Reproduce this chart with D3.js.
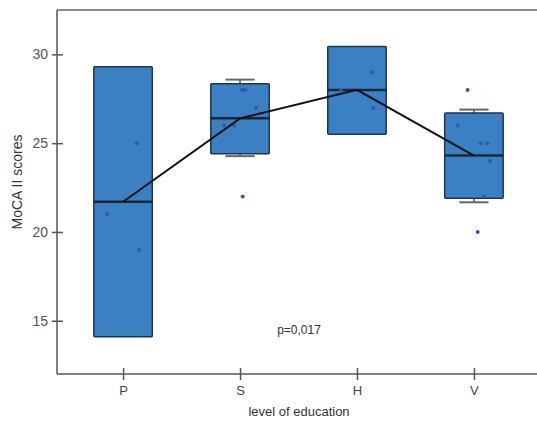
<!DOCTYPE html>
<html>
<head>
<meta charset="utf-8">
<script src="https://cdn.jsdelivr.net/npm/d3@7"></script>
<style>
  html, body { margin: 0; padding: 0; background: #fff; }
  svg { display: block; }
  text { font-family: Arial, "Liberation Sans", sans-serif; }
</style>
</head>
<body>
<svg id="chart" width="537" height="425"></svg>
<script>
// Education level groups
const categories = ["P", "S", "H", "V"];

// Box statistics per group (MoCA II scores)
const q1 = [14.1, 24.4, 25.5, 21.9];
const medians = [21.7, 26.4, 28.0, 24.3];
const q3 = [29.3, 28.35, 30.45, 26.7];
const whiskerLow = [null, 24.27, null, 21.67];
const whiskerHigh = [null, 28.58, null, 26.89];

// Individual scores per group
const scoresP = [25, 21, 19];
const scoresS = [28, 28, 27, 26, 26, 22];
const scoresH = [28, 29, 27];
const scoresV = [28, 26, 25, 25, 24, 22, 20];
// Horizontal jitter of each score, as a fraction of the category step
const jitterP = [0.117, -0.137, 0.137];
const jitterS = [0.017, 0.043, 0.137, -0.137, -0.051, 0.023];
const jitterH = [-0.137, 0.126, 0.137];
const jitterV = [-0.054, -0.139, 0.06, 0.117, 0.137, 0.083, 0.032];

const yTicks = [15, 20, 25, 30];
const pLabel = "p=0,017";

const scores = [scoresP, scoresS, scoresH, scoresV];
const jitters = [jitterP, jitterS, jitterH, jitterV];

const svg = d3.select("#chart");
const plotLeft = 57, plotRight = 540, plotTop = 10, plotBottom = 374;

const x = d3.scalePoint().domain(categories).range([plotLeft, plotRight]).padding(0.565);
const y = d3.scaleLinear().domain([12, 32.5]).range([plotBottom, plotTop]);
const step = x.step();
const boxW = step * 0.5;

const boxFill = "#3a80c2";
const boxStroke = "#1d3550";
const dotColor = "#2f57b8";

// Frame
svg.append("line").attr("x1", plotLeft).attr("x2", plotRight).attr("y1", plotTop).attr("y2", plotTop)
  .attr("stroke", "#666").attr("stroke-width", 1.5);

// Boxes
const g = svg.append("g");
categories.forEach((c, i) => {
  const cx = x(c);
  if (whiskerHigh[i] != null) {
    g.append("line").attr("x1", cx).attr("x2", cx)
      .attr("y1", y(whiskerHigh[i])).attr("y2", y(q3[i]))
      .attr("stroke", "#555").attr("stroke-width", 1.5);
    g.append("line").attr("x1", cx - boxW / 4).attr("x2", cx + boxW / 4)
      .attr("y1", y(whiskerHigh[i])).attr("y2", y(whiskerHigh[i]))
      .attr("stroke", "#666").attr("stroke-width", 2);
  }
  if (whiskerLow[i] != null) {
    g.append("line").attr("x1", cx).attr("x2", cx)
      .attr("y1", y(q1[i])).attr("y2", y(whiskerLow[i]))
      .attr("stroke", "#555").attr("stroke-width", 1.5);
    g.append("line").attr("x1", cx - boxW / 4).attr("x2", cx + boxW / 4)
      .attr("y1", y(whiskerLow[i])).attr("y2", y(whiskerLow[i]))
      .attr("stroke", "#666").attr("stroke-width", 2);
  }
  g.append("rect")
    .attr("x", cx - boxW / 2).attr("width", boxW)
    .attr("y", y(q3[i])).attr("height", y(q1[i]) - y(q3[i]))
    .attr("fill", boxFill).attr("stroke", boxStroke).attr("stroke-width", 1.5)
    .attr("rx", 1);
  g.append("line").attr("x1", cx - boxW / 2).attr("x2", cx + boxW / 2)
    .attr("y1", y(medians[i])).attr("y2", y(medians[i]))
    .attr("stroke", "#16283c").attr("stroke-width", 2.5);
});

// Individual scores
categories.forEach((c, i) => {
  g.selectAll(null).data(scores[i]).enter().append("circle")
    .attr("cx", (d, j) => x(c) + jitters[i][j] * step)
    .attr("cy", d => y(d))
    .attr("r", 2)
    .attr("fill", dotColor);
});

// Line through medians
svg.append("path")
  .datum(categories.map((c, i) => [x(c), y(medians[i])]))
  .attr("d", d3.line())
  .attr("fill", "none").attr("stroke", "#111").attr("stroke-width", 2);

// Axes
const yAxis = svg.append("g").attr("transform", `translate(${plotLeft},0)`)
  .call(d3.axisLeft(y).tickValues(yTicks).tickSize(0).tickPadding(9));
yAxis.select(".domain").attr("stroke", "#555").attr("stroke-width", 1.5)
  .attr("d", `M0,${plotTop}V${plotBottom}`);
yAxis.selectAll(".tick").append("line").attr("x1", -5).attr("x2", 6)
  .attr("stroke", "#555").attr("stroke-width", 1.5);
yAxis.selectAll(".tick text").attr("fill", "#555").attr("font-size", 14).attr("dx", 0);

const xAxis = svg.append("g").attr("transform", `translate(0,${plotBottom})`)
  .call(d3.axisBottom(x).tickSize(0).tickPadding(12));
xAxis.select(".domain").attr("stroke", "#555").attr("stroke-width", 1.5)
  .attr("d", `M${plotLeft},0H${plotRight}`);
xAxis.selectAll(".tick").append("line").attr("y1", -6).attr("y2", 6)
  .attr("stroke", "#555").attr("stroke-width", 1.5);
xAxis.selectAll(".tick text").attr("fill", "#444").attr("font-size", 13);

// Labels
svg.append("text").attr("transform", "translate(22,182) rotate(-90)")
  .attr("text-anchor", "middle").attr("font-size", 14).attr("fill", "#333")
  .text("MoCA II scores");
svg.append("text").attr("x", 299).attr("y", 416)
  .attr("text-anchor", "middle").attr("font-size", 13).attr("fill", "#333")
  .text("level of education");
svg.append("text").attr("x", 299).attr("y", 334)
  .attr("text-anchor", "middle").attr("font-size", 12).attr("fill", "#333")
  .text(pLabel);
</script>
</body>
</html>
